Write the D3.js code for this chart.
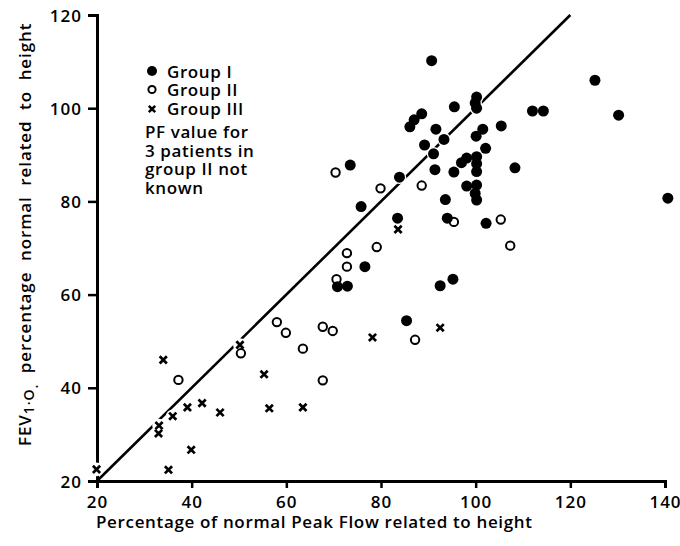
<!DOCTYPE html>
<html>
<head>
<meta charset="utf-8">
<script src="https://cdn.jsdelivr.net/npm/d3@7"></script>
<style>
  html, body { margin: 0; padding: 0; background: #fff; }
  svg { display: block; }
  text { font-family: "Open Sans", "DejaVu Sans", sans-serif; font-weight: 600; fill: #000; }
</style>
</head>
<body>
<svg id="chart" width="680" height="546"></svg>
<script>
// Percentage of normal peak flow (x) vs FEV1.0 percentage normal (y)
const groupI = [
  [90.7, 110.2], [125.2, 106.0], [130.2, 98.5], [140.6, 80.7],
  [112.0, 99.4], [114.3, 99.4], [100.2, 102.4], [99.9, 101.1],
  [100.2, 100.0], [95.5, 100.3], [88.6, 98.8], [87.0, 97.5],
  [86.1, 96.0], [91.6, 95.5], [101.5, 95.5], [100.1, 94.0],
  [105.4, 96.2], [93.3, 93.3], [89.2, 92.1], [91.1, 90.2],
  [102.1, 91.4], [97.0, 88.3], [98.1, 89.3], [100.2, 89.6],
  [100.2, 88.1], [100.2, 86.4], [91.4, 86.8], [95.4, 86.3],
  [108.3, 87.2], [83.9, 85.2], [73.5, 87.8], [75.8, 78.9],
  [98.1, 83.3], [100.2, 83.5], [99.9, 81.7], [100.2, 80.3],
  [93.6, 80.4], [83.5, 76.4], [94.0, 76.4], [102.2, 75.3],
  [76.6, 66.0], [70.8, 61.7], [72.9, 61.8], [92.5, 61.9],
  [95.2, 63.3], [85.4, 54.4]
];
const groupII = [
  [70.4, 86.2], [79.9, 82.8], [88.6, 83.4], [95.4, 75.6],
  [105.3, 76.1], [107.3, 70.5], [79.1, 70.2], [72.8, 68.9],
  [72.8, 66.0], [70.6, 63.3], [87.2, 50.3], [58.0, 54.1],
  [59.9, 51.8], [63.5, 48.4], [67.7, 53.1], [69.8, 52.2],
  [67.7, 41.6], [50.4, 47.4], [37.2, 41.7]
];
const groupIII = [
  [19.9, 22.5], [34.0, 46.0], [33.1, 31.9], [33.0, 30.2],
  [36.0, 33.9], [39.1, 35.8], [42.2, 36.7], [46.0, 34.7],
  [39.9, 26.7], [35.1, 22.4], [50.2, 49.2], [55.3, 42.9],
  [56.4, 35.6], [63.5, 35.8], [78.2, 50.8], [83.6, 74.0],
  [92.5, 52.9]
];
const identityLine = [[20, 20], [120, 120]];
const xTicks = [20, 40, 60, 80, 100, 120, 140];
const yTicks = [20, 40, 60, 80, 100, 120];
const legendLabels = ["Group I", "Group II", "Group III"];
const noteLines = ["PF value for", "3 patients in", "group II not", "known"];

const svg = d3.select("#chart");
const x = d3.scaleLinear().domain([20, 140]).range([97, 665]);
const y = d3.scaleLinear().domain([20, 120]).range([481, 15]);

// Axes
const xAxis = d3.axisBottom(x).tickValues(xTicks).tickSizeInner(7).tickSizeOuter(7).tickPadding(8);
const yAxis = d3.axisLeft(y).tickValues(yTicks).tickSizeInner(9).tickSizeOuter(9).tickPadding(6);

const gx = svg.append("g").attr("transform", `translate(0,${y(20)})`).call(xAxis);
const gy = svg.append("g").attr("transform", `translate(${x(20)},0)`).call(yAxis);
[gx, gy].forEach(g => {
  g.select(".domain").attr("stroke", "#000").attr("stroke-width", 3).attr("fill", "none");
  g.selectAll(".tick line").attr("stroke", "#000").attr("stroke-width", 2.5);
  g.selectAll(".tick text")
    .style("font-family", "'Open Sans', sans-serif")
    .style("font-weight", 600)
    .attr("font-size", 17)
    .attr("letter-spacing", 1)
    .attr("fill", "#000");
});
gy.selectAll(".tick line").filter(d => d === 20).remove();
gx.selectAll(".tick text").attr("dy", "0.71em");
gy.selectAll(".tick text").attr("dy", "0.36em");

// Line of identity
svg.append("path")
  .datum(identityLine)
  .attr("d", d3.line().x(d => x(d[0])).y(d => y(d[1])))
  .attr("stroke", "#000").attr("stroke-width", 2.6).attr("fill", "none");

// White surround under each symbol breaks the line where points sit on it
const all = groupI.concat(groupII, groupIII);
svg.append("g").selectAll("circle").data(all).join("circle")
  .attr("cx", d => x(d[0])).attr("cy", d => y(d[1])).attr("r", 6.8)
  .attr("fill", "#fff");

const cross = (g, cx, cy, s, w) => {
  g.append("path")
    .attr("d", `M${cx - s},${cy - s}L${cx + s},${cy + s}M${cx + s},${cy - s}L${cx - s},${cy + s}`)
    .attr("stroke", "#000").attr("stroke-width", w).attr("fill", "none");
};

// Group II: open circles
svg.append("g").selectAll("circle").data(groupII).join("circle")
  .attr("cx", d => x(d[0])).attr("cy", d => y(d[1])).attr("r", 4.2)
  .attr("fill", "#fff").attr("stroke", "#000").attr("stroke-width", 2);

// Group I: filled circles
svg.append("g").selectAll("circle").data(groupI).join("circle")
  .attr("cx", d => x(d[0])).attr("cy", d => y(d[1])).attr("r", 5.5)
  .attr("fill", "#000");

// Group III: crosses
const g3 = svg.append("g");
groupIII.forEach(d => cross(g3, x(d[0]), y(d[1]), 3.6, 2.7));

// Legend
const leg = svg.append("g");
const legY = [71, 89.5, 108];
leg.append("circle").attr("cx", 152).attr("cy", legY[0]).attr("r", 5).attr("fill", "#000");
leg.append("circle").attr("cx", 152).attr("cy", legY[1]).attr("r", 3.6)
  .attr("fill", "#fff").attr("stroke", "#000").attr("stroke-width", 2);
cross(leg, 152, legY[2] + 1, 3.2, 2.5);
legendLabels.forEach((t, i) => {
  leg.append("text").attr("x", 167).attr("y", legY[i] + 6.5)
    .attr("font-size", 17).attr("letter-spacing", 0.6).text(t);
});
noteLines.forEach((t, i) => {
  leg.append("text").attr("x", 145).attr("y", 138 + i * 18.5)
    .attr("font-size", 17).attr("letter-spacing", 0.6).text(t);
});

// Axis titles
svg.append("text")
  .attr("x", 96).attr("y", 528)
  .attr("font-size", 17)
  .attr("textLength", 436).attr("lengthAdjust", "spacing")
  .text("Percentage of normal Peak Flow related to height");

const yt = svg.append("text")
  .attr("transform", "translate(31,446) rotate(-90)")
  .attr("font-size", 17)
  .attr("letter-spacing", 0.9)
  .attr("xml:space", "preserve");
yt.append("tspan").text("FEV");
yt.append("tspan").attr("font-size", 14).attr("dy", 3).text("1·O");
yt.append("tspan").attr("font-size", 14).attr("dy", 4).text(".");
yt.append("tspan").attr("dy", -7).text("  percentage  normal  related  to  height");
</script>
</body>
</html>
